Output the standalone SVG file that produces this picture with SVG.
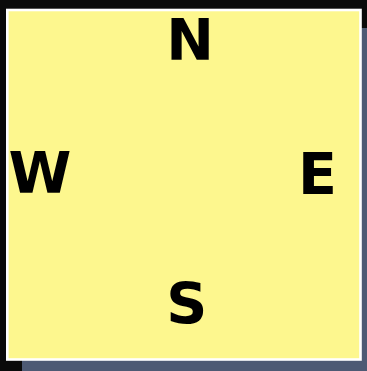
<svg xmlns="http://www.w3.org/2000/svg" width="367" height="371" viewBox="0 0 367 371">
<style>
.lbl{font-family:"DejaVu Sans",sans-serif;font-weight:bold;font-size:57px;fill:#000;text-anchor:middle}
</style>
<rect x="0" y="0" width="367" height="371" fill="#0a0a0a"/>
<g id="box">
<rect x="22" y="28" width="360" height="360" fill="#4d5a74"/>
<rect x="7.3" y="10" width="353.2" height="349.5" fill="#fdf78e" stroke="#ffffff" stroke-width="2.6"/>
</g>
<g id="N"><text class="lbl" x="190" y="59.5">N</text></g>
<g id="W"><text class="lbl" x="40" y="193.3">W</text></g>
<g id="E"><text class="lbl" x="317.5" y="194">E</text></g>
<g id="S"><text class="lbl" x="186.7" y="323.5">S</text></g>
</svg>
